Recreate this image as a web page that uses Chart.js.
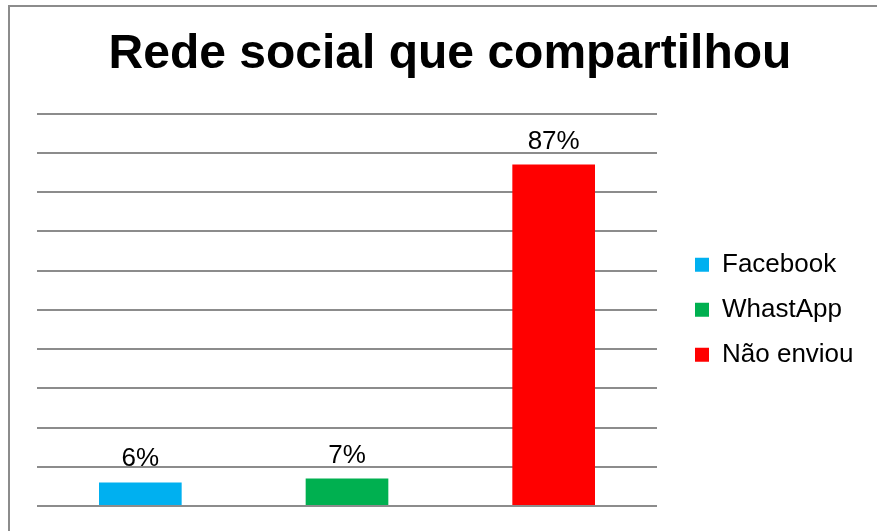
<!DOCTYPE html>
<html>
<head>
<meta charset="utf-8">
<script src="https://cdn.jsdelivr.net/npm/chart.js@4"></script>
<style>
  html, body { margin: 0; padding: 0; background: #fff; overflow: hidden; }
  #box {
    position: absolute; left: 8px; top: 5px;
    width: 880px; height: 540px;
    border: 2px solid #8c8c8c;
  }
  #chart { display: block; }
</style>
</head>
<body>
<div id="box"><canvas id="chart" width="880" height="540"></canvas></div>
<script>
// chart data
const categories = ['Facebook', 'WhastApp', 'Não enviou'];
const values = [6, 7, 87];
const barColors = ['#00B0F0', '#00B050', '#FF0000'];
const chartTitle = 'Rede social que compartilhou';

const fontFamily = '"Liberation Sans", Arial, sans-serif';

// Percent labels above bars
const barLabels = {
  id: 'barLabels',
  afterDatasetsDraw(chart) {
    const ctx = chart.ctx;
    const meta = chart.getDatasetMeta(0);
    ctx.save();
    ctx.font = '26px ' + fontFamily;
    ctx.fillStyle = '#000';
    ctx.textAlign = 'center';
    ctx.textBaseline = 'alphabetic';
    meta.data.forEach((bar, i) => {
      ctx.fillText(values[i] + '%', bar.x, bar.y - 16);
    });
    ctx.restore();
  }
};

// make the legend column wider so the plot ends where it should
const legendWidth = {
  id: 'legendWidth',
  beforeInit(chart) {
    const legend = chart.legend;
    const fit = legend.fit;
    legend.fit = function () {
      fit.call(this);
      this.width = 214;
    };
  }
};

Chart.defaults.font.family = fontFamily;
Chart.defaults.color = '#000';

new Chart(document.getElementById('chart'), {
  type: 'bar',
  data: {
    labels: categories,
    datasets: [{
      data: values,
      backgroundColor: barColors,
      categoryPercentage: 1,
      barPercentage: 0.4
    }]
  },
  options: {
    responsive: false,
    animation: false,
    layout: { padding: { left: 0, right: 0, top: 0, bottom: 41 } },
    plugins: {
      title: {
        display: true,
        text: chartTitle,
        font: { size: 48, weight: 'bold' },
        color: '#000',
        padding: { top: 19, bottom: 30 }
      },
      legend: {
        position: 'right',
        fullSize: false,
        labels: {
          font: { size: 26 },
          color: '#000',
          boxWidth: 14,
          boxHeight: 14,
          padding: 19,
          generateLabels(chart) {
            return categories.map((c, i) => ({
              text: c,
              fillStyle: barColors[i],
              strokeStyle: barColors[i],
              lineWidth: 0,
              index: i
            }));
          }
        }
      },
      tooltip: { enabled: false }
    },
    scales: {
      x: {
        grid: { display: false },
        border: { display: false },
        ticks: { display: false },
        afterFit(s) { s.height = 0; }
      },
      y: {
        min: 0,
        max: 100,
        ticks: { display: false, stepSize: 10 },
        grid: { color: '#8c8c8c', lineWidth: 2, drawTicks: false },
        border: { display: false },
        afterFit(s) { s.width = 27; }
      },
      gap: {
        position: 'right',
        display: true,
        grid: { display: false },
        border: { display: false },
        ticks: { display: false },
        afterFit(s) { s.width = 19; }
      }
    }
  },
  plugins: [barLabels, legendWidth]
});
</script>
</body>
</html>
